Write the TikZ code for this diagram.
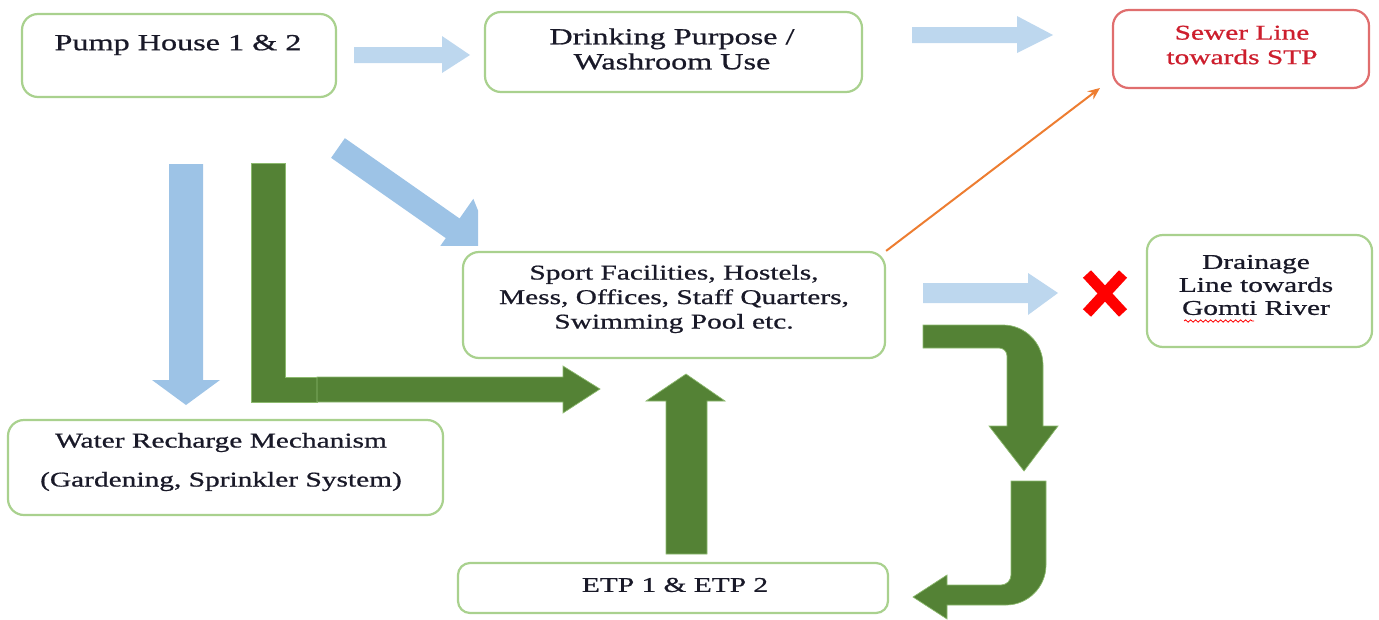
\documentclass[tikz,border=0pt]{standalone}
\usepackage{fontspec}
\setmainfont{Liberation Serif}[FakeStretch=1.4, FakeBold=0.8]
\usetikzlibrary{arrows.meta,decorations.pathmorphing}
\definecolor{boxg}{RGB}{169,209,142}
\definecolor{boxr}{RGB}{224,110,110}
\definecolor{txtr}{RGB}{205,30,45}
\definecolor{bluea}{RGB}{157,195,230}
\definecolor{blueb}{RGB}{189,215,238}
\definecolor{greena}{RGB}{84,130,53}
\definecolor{greenedge}{RGB}{140,185,110}
\definecolor{orangea}{RGB}{237,125,49}
\definecolor{txtk}{RGB}{25,25,40}
\begin{document}
\begin{tikzpicture}[x=1pt,y=-1pt,
  box/.style={draw=boxg, line width=2.2pt, rounded corners=16pt, fill=white, inner sep=0pt},
  redbox/.style={box, draw=boxr},
  txt/.style={align=center, font=\fontsize{21}{24.5}\selectfont, inner sep=0pt, text=txtk},
  bigtxt/.style={txt, font=\fontsize{23}{25}\selectfont},
  lblue/.style={fill=blueb},
  dblue/.style={fill=bluea},
  gblock/.style={fill=greena, draw=greenedge, line width=0.7pt},
]
\useasboundingbox (0,0) rectangle (1379,619);

% boxes
\node[box, minimum width=314pt, minimum height=83pt] (pump) at (179,55.5) {};
\node[bigtxt] (pumpT) at (178,45) {Pump House 1 \& 2};

\node[box, minimum width=377pt, minimum height=80pt] (drink) at (673.5,52) {};
\node[bigtxt] (drinkT) at (672,49) {Drinking Purpose /\\Washroom Use};

\node[redbox, minimum width=256pt, minimum height=78pt] (sewer) at (1241,49) {};
\node[txt, text=txtr] (sewerT) at (1242,45) {Sewer Line\\towards STP};

\node[box, minimum width=422pt, minimum height=106pt] (sport) at (674,305) {};
\node[txt] (sportT) at (674,299) {Sport Facilities, Hostels,\\Mess, Offices, Staff Quarters,\\Swimming Pool etc.};

\node[box, minimum width=225pt, minimum height=112pt] (drain) at (1259.5,291) {};
\node[txt, font=\fontsize{21}{23}\selectfont] (drainT) at (1256,285) {Drainage\\Line towards\\Gomti River};
\draw[red, line width=0.8pt, decorate, decoration={snake, amplitude=1.2pt, segment length=5pt}] (1184,321) -- (1254,321);

\node[box, minimum width=435pt, minimum height=95pt] (water) at (225.5,467.5) {};
\node[txt, font=\fontsize{21}{39}\selectfont] (waterT) at (221,462) {Water Recharge Mechanism\\(Gardening, Sprinkler System)};

\node[box, rounded corners=12pt, minimum width=430pt, minimum height=50pt] (etp) at (673,588) {};
\node[txt] (etpT) at (675,585) {ETP 1 \& ETP 2};

% blue block arrows
\fill[lblue] (354,47) -- (442,47) -- (442,36) -- (470,55) -- (442,73) -- (442,63) -- (354,63) -- cycle;
\fill[lblue] (912,27) -- (1017,27) -- (1017,16) -- (1053,35) -- (1017,53) -- (1017,43) -- (912,43) -- cycle;
\fill[lblue] (923,283) -- (1028,283) -- (1028,273) -- (1058,293) -- (1028,315) -- (1028,303) -- (923,303) -- cycle;
\fill[dblue] (169,164) -- (203,164) -- (203,380) -- (220,380) -- (186,405) -- (152,380) -- (169,380) -- cycle;
\begin{scope}
  \clip (300,100) rectangle (478,245);
  \fill[dblue, shift={(338,148)}, rotate=-35] (0,-12) -- (140,-12) -- (140,-36) -- (195,0) -- (140,36) -- (140,12) -- (0,12) -- cycle;
\end{scope}

% green block arrows
\fill[gblock] (251,163) -- (285,163) -- (285,377) -- (317,377) -- (317,402) -- (251,402) -- cycle;
\fill[gblock] (317,377) -- (563,377) -- (563,366) -- (600,389) -- (563,413) -- (563,402) -- (317,402) -- cycle;
\filldraw[gblock] (666,554) -- (666,401) -- (646,401) -- (686,374) -- (725,401) -- (707,401) -- (707,554) -- cycle;
\filldraw[gblock] (923,325) -- (1003,325) .. controls (1025,325) and (1043,343) .. (1043,365) -- (1043,426) -- (1058,426) -- (1024,471) -- (989,426) -- (1007,426) -- (1007,356) .. controls (1007,351.6) and (1003.4,348) .. (999,348) -- (923,348) -- cycle;
\filldraw[gblock] (1011,481) -- (1046,481) -- (1046,565) .. controls (1046,587) and (1028,605) .. (1006,605) -- (947,605) -- (947,619) -- (913,597) -- (947,575) -- (947,585) -- (1001,585) .. controls (1006.5,585) and (1011,580.5) .. (1011,575) -- cycle;

% red cross
\draw[red, line width=11pt] (1087,274) -- (1123,313) (1123,274) -- (1087,313);

% orange connector
\coordinate (oEnd) at (1100,88);
\draw[orangea, line width=2pt, -{Stealth[length=12pt,width=10pt]}] (sport.north east) -- (oEnd);
\end{tikzpicture}
\end{document}
